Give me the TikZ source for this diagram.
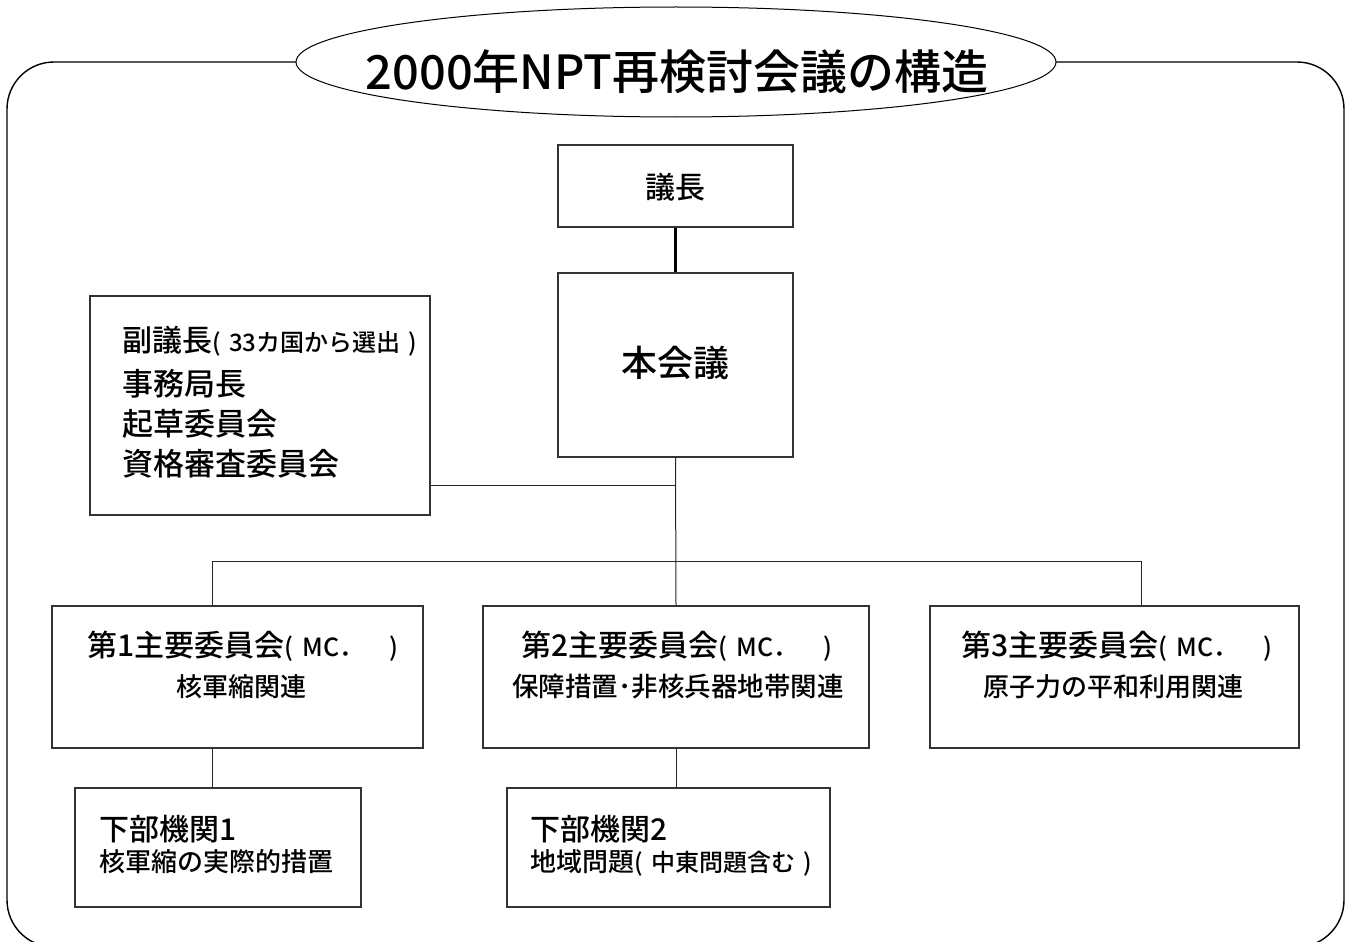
\documentclass[tikz,border=0pt]{standalone}
\usepackage{fontspec}
\setmainfont{Noto Sans CJK JP}[UprightFont=* Medium]
\usetikzlibrary{shapes.geometric}
\tikzset{
  box/.style={draw=black!80, line width=1.2pt, rectangle, inner sep=0pt},
  conn/.style={draw=black!85, line width=1pt},
  txt/.style={inner sep=0pt, anchor=base},
  txtl/.style={inner sep=0pt, anchor=base west},
}
\newcommand{\fs}[1]{\fontsize{#1}{#1}\selectfont}
\newcommand{\gapsp}{\hspace{0.35em}}
\begin{document}
\begin{tikzpicture}[x=1pt,y=-1pt]
\useasboundingbox (0,0) rectangle (1350,942);
\clip (0,0) rectangle (1350,942);
% outer frame
\draw[line width=1.4pt, rounded corners=47pt] (7,62) rectangle (1344,947);
% title
\node[ellipse, draw, fill=white, line width=1pt, minimum width=760pt, minimum height=110pt, inner sep=0pt] (title) at (676,62) {};
\node[txt] (titletext) at (677,89) {\fs{47}2000年NPT再検討会議の構造};
% boxes
\node[box, minimum width=235pt, minimum height=82pt] (gic) at (675.5,186) {};
\node[txt] (gict) at (gic.center |- 0,198) {\fs{30}議長};
\node[box, minimum width=235pt, minimum height=184pt] (hon) at (675.5,365) {};
\node[txt] (hont) at (hon.center |- 0,376) {\fs{36}本会議};
\node[box, minimum width=340pt, minimum height=219pt] (side) at (260,405.5) {};
\node[txtl] (side1) at (122,351) {\fs{30}副議長{\fs{24}(\gapsp 33カ国から選出\gapsp)}};
\node[txtl] (side2) at (122,395) {\fs{31}事務局長};
\node[txtl] (side3) at (122,435) {\fs{31}起草委員会};
\node[txtl] (side4) at (122,475) {\fs{31}資格審査委員会};
\node[box, minimum width=371pt, minimum height=142pt] (c1) at (237.5,677) {};
\node[txt] (c1a) at (243,656) {\fs{30}第1主要委員会{\fs{25}(\gapsp MC．　)}};
\node[txt] (c1b) at (241,696) {\fs{26}核軍縮関連};
\node[box, minimum width=386pt, minimum height=142pt] (c2) at (676,677) {};
\node[txt] (c2a) at (677,656) {\fs{30}第2主要委員会{\fs{25}(\gapsp MC．　)}};
\node[txt] (c2b) at (678,696) {\fs{26.5}保障措置･非核兵器地帯関連};
\node[box, minimum width=369pt, minimum height=142pt] (c3) at (1114.5,677) {};
\node[txt] (c3a) at (1117,656) {\fs{30}第3主要委員会{\fs{25}(\gapsp MC．　)}};
\node[txt] (c3b) at (1113,696) {\fs{26}原子力の平和利用関連};
\node[box, minimum width=286pt, minimum height=119pt] (s1) at (218,847.5) {};
\node[txtl] (s1a) at (99,840) {\fs{30}下部機関1};
\node[txtl] (s1b) at (99,871) {\fs{26}核軍縮の実際的措置};
\node[box, minimum width=323pt, minimum height=119pt] (s2) at (668.5,847.5) {};
\node[txtl] (s2a) at (530,840) {\fs{30}下部機関2};
\node[txtl] (s2b) at (530,871) {\fs{26}地域問題{\fs{24}(\gapsp 中東問題含む\gapsp)}};
% connectors
\draw[line width=2.4pt] (gic.south) -- (hon.south |- gic.south) -- (hon.north);
\coordinate (j) at (675.5,485);
\coordinate (b1) at (212,561);
\coordinate (b2) at (675.5,561);
\coordinate (b3) at (1141,561);
\draw[conn] (hon.south) -- (c2.north);
\draw[conn] (side.east |- j) -- (j);
\draw[conn] (b1) -- (b3);
\draw[conn] (b1) -- (b1 |- c1.north);
\draw[conn] (b3) -- (b3 |- c3.north);
\draw[conn] (b1 |- c1.south) -- (b1 |- s1.north);
\draw[conn] (c2.south) -- (c2.south |- s2.north);
\end{tikzpicture}
\end{document}
